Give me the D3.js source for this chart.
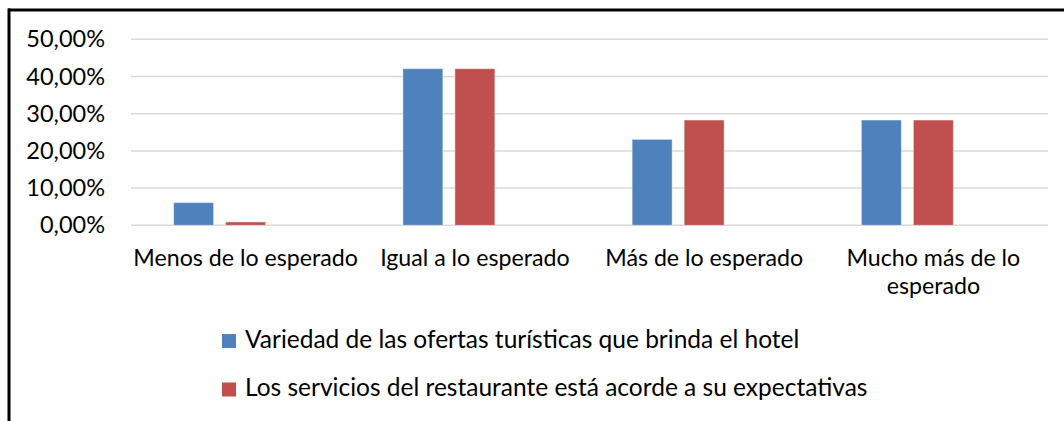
<!DOCTYPE html>
<html>
<head>
<meta charset="utf-8">
<script src="https://cdn.jsdelivr.net/npm/d3@7"></script>
<style>
  html, body { margin: 0; padding: 0; background: #fff; }
  svg { display: block; font-family: Lato, 'Open Sans', sans-serif; }
</style>
</head>
<body>
<svg id="chart" width="1064" height="421"></svg>
<script>
// chart data
const categories = ['Menos de lo esperado', 'Igual a lo esperado', 'Más de lo esperado', 'Mucho más de lo esperado'];
const seriesNames = [
  'Variedad de las ofertas turísticas que brinda el hotel',
  'Los servicios del restaurante está acorde a su expectativas'
];
const variedadValues = [0.061, 0.421, 0.231, 0.283];
const restauranteValues = [0.009, 0.421, 0.283, 0.283];
const yTicks = [0, 0.1, 0.2, 0.3, 0.4, 0.5];
const colors = ['#4F81BD', '#C0504D'];

const svg = d3.select('#chart');
const width = 1064;
const height = 421;

// plot area
const plot = { left: 131, right: 1048, top: 39.3, bottom: 225.3 };

const esLocale = d3.formatLocale({ decimal: ',', thousands: '.', grouping: [3], currency: ['', ' €'] });
const pct = esLocale.format('.2%');

const x0 = d3.scaleBand().domain(categories).range([plot.left, plot.right]).padding(0);
// three slots per category, third one stays empty (as in the original chart)
const slotKeys = ['s0', 's1', 's2'];
const outerGap = (x0.bandwidth() - 144) / 2;
const x1 = d3.scaleBand().domain(slotKeys).range([outerGap, x0.bandwidth() - outerGap]).paddingInner(0.2308).paddingOuter(0);
const y = d3.scaleLinear().domain([0, 0.5]).range([plot.bottom, plot.top]);

// frame (only top and left edges visible)
svg.append('line').attr('x1', 8).attr('x2', width).attr('y1', 10).attr('y2', 10)
  .attr('stroke', '#000').attr('stroke-width', 3);
svg.append('line').attr('x1', 9).attr('x2', 9).attr('y1', 8.5).attr('y2', height)
  .attr('stroke', '#000').attr('stroke-width', 3);

// gridlines
svg.append('g')
  .selectAll('line')
  .data(yTicks)
  .join('line')
  .attr('x1', plot.left)
  .attr('x2', plot.right)
  .attr('y1', (d) => y(d))
  .attr('y2', (d) => y(d))
  .attr('stroke', '#D9D9D9')
  .attr('stroke-width', 1.5);

// y axis labels
const yAxis = d3.axisLeft(y).tickValues(yTicks).tickFormat(pct).tickSize(0).tickPadding(0);
const yAxisG = svg.append('g').attr('transform', 'translate(105,0)').call(yAxis);
yAxisG.select('.domain').remove();
yAxisG.selectAll('text')
  .attr('font-size', 23.5)
  .attr('fill', '#000')
  .attr('font-family', 'Lato, sans-serif');

// bars
const rows = categories.map((c, i) => ({
  category: c,
  values: [variedadValues[i], restauranteValues[i]]
}));

const groups = svg.append('g')
  .selectAll('g')
  .data(rows)
  .join('g')
  .attr('transform', (d) => `translate(${x0(d.category)},0)`);

groups.selectAll('rect')
  .data((d) => d.values.map((v, k) => ({ v, k })))
  .join('rect')
  .attr('x', (d) => x1(slotKeys[d.k]))
  .attr('width', x1.bandwidth())
  .attr('y', (d) => y(d.v))
  .attr('height', (d) => y(0) - y(d.v))
  .attr('fill', (d) => colors[d.k])
  .attr('stroke', '#fff')
  .attr('stroke-opacity', 0.45)
  .attr('stroke-width', 1);

// x axis labels, wrapped to the band width
const labelFont = 23.2;
const legendFont = 24.5;
const lineHeight = 28;
const xLabels = svg.append('g')
  .selectAll('text')
  .data(categories)
  .join('text')
  .attr('x', (d) => x0(d) + x0.bandwidth() / 2)
  .attr('y', 266)
  .attr('text-anchor', 'middle')
  .attr('font-size', labelFont)
  .attr('fill', '#000');

xLabels.each(function (d) {
  const text = d3.select(this);
  const words = d.split(' ');
  const maxW = x0.bandwidth() - 4;
  let line = [];
  let tspan = text.append('tspan').attr('x', text.attr('x')).attr('dy', 0);
  words.forEach((w) => {
    line.push(w);
    tspan.text(line.join(' '));
    if (tspan.node().getComputedTextLength() > maxW && line.length > 1) {
      line.pop();
      tspan.text(line.join(' '));
      line = [w];
      tspan = text.append('tspan').attr('x', text.attr('x')).attr('dy', lineHeight).text(w);
    }
  });
});

// legend
const legend = svg.append('g')
  .selectAll('g')
  .data(seriesNames)
  .join('g')
  .attr('transform', (d, i) => `translate(222,${334 + i * 48.5})`);

legend.append('rect')
  .attr('width', 14)
  .attr('height', 14)
  .attr('fill', (d, i) => colors[i]);

legend.append('text')
  .attr('x', 23)
  .attr('y', 13.5)
  .attr('font-size', legendFont)
  .attr('fill', '#000')
  .text((d) => d);
</script>
</body>
</html>
